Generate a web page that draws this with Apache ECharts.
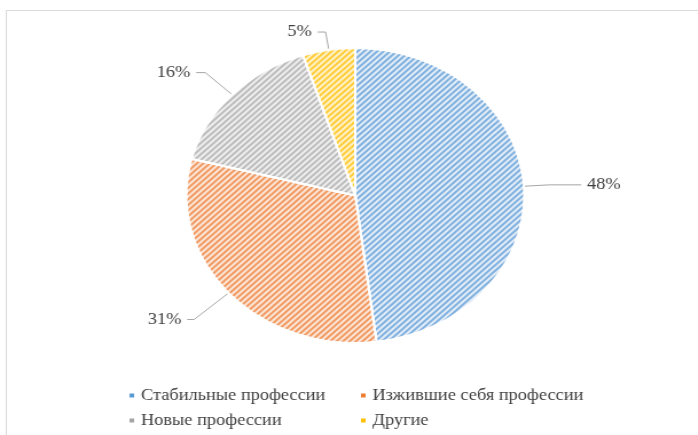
<!DOCTYPE html>
<html>
<head>
<meta charset="utf-8">
<script src="https://cdn.jsdelivr.net/npm/echarts@6/dist/echarts.min.js"></script>
<style>
  html, body { margin: 0; padding: 0; background: #fff; overflow: hidden; }
  /* the reference picture is stretched horizontally, so draw narrower and stretch */
  #chart { width: 609px; height: 435px; transform: scaleX(1.146); transform-origin: 0 0; }
</style>
</head>
<body>
<div id="chart"></div>
<script>
  var categories = ['Стабильные профессии', 'Изжившие себя профессии', 'Новые профессии', 'Другие'];
  var shares = [48, 31, 16, 5];
  var colors = ['#5b9bd5', '#ed7d31', '#a5a5a5', '#ffc000'];
  var stripeColors = ['#80b1df', '#f19a62', '#bdbdbd', '#ffcd3a'];
  var lightColors = ['#e3edf8', '#fce6d8', '#eeeeee', '#fff2c8'];
  // per slice label line: [radial part, horizontal part]
  var lineLengths = [[22, 28], [40, 6], [32, 8], [18, 7]];

  var chart = echarts.init(document.getElementById('chart'));

  var pieData = categories.map(function (name, i) {
    return {
      name: name,
      value: shares[i],
      itemStyle: {
        color: lightColors[i],
        decal: {
          symbol: 'rect',
          color: stripeColors[i],
          dashArrayX: [1, 0],
          dashArrayY: [1.5, 1.5],
          rotation: -Math.PI / 4
        }
      },
      labelLine: { length: lineLengths[i][0], length2: lineLengths[i][1] }
    };
  });

  function legendItem(i) {
    return { name: categories[i], itemStyle: { color: colors[i], decal: 'none' } };
  }

  var font = 'Liberation Serif';
  var legendText = { fontFamily: font, fontSize: 16, lineHeight: 17, color: '#404040' };

  var options = {
    animation: false,
    color: colors,
    graphic: [{
      type: 'rect',
      shape: { x: 5.5, y: 10.5, width: 700, height: 500 },
      style: { fill: 'none', stroke: '#d9d9d9', lineWidth: 1 },
      silent: true
    }],
    legend: [{
      orient: 'vertical',
      left: 111,
      top: 387,
      padding: 0,
      itemWidth: 6,
      itemHeight: 6,
      itemGap: 8,
      icon: 'rect',
      data: [legendItem(0), legendItem(2)],
      textStyle: legendText
    }, {
      orient: 'vertical',
      left: 313,
      top: 387,
      padding: 0,
      itemWidth: 6,
      itemHeight: 6,
      itemGap: 8,
      icon: 'rect',
      data: [legendItem(1), legendItem(3)],
      textStyle: legendText
    }],
    series: [{
      type: 'pie',
      center: [310, 195.5],
      radius: 147.5,
      startAngle: 90,
      clockwise: true,
      data: pieData,
      itemStyle: { borderColor: '#fff', borderWidth: 2 },
      label: {
        formatter: '{c}%',
        fontFamily: font,
        fontSize: 16,
        color: '#404040'
      },
      labelLine: {
        lineStyle: { color: '#a6a6a6', width: 1 }
      }
    }]
  };
  chart.setOption(options);
</script>
</body>
</html>
